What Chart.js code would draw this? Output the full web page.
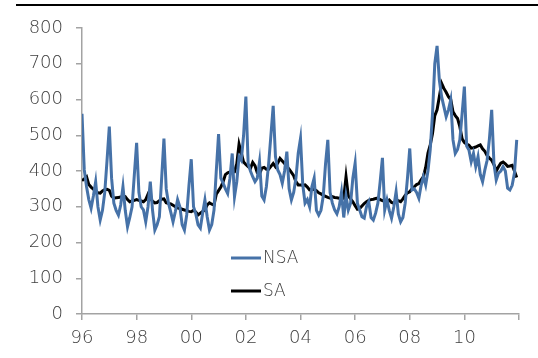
<!DOCTYPE html>
<html>
<head>
<meta charset="utf-8">
<script src="https://cdn.jsdelivr.net/npm/chart.js@4"></script>
<style>
  html, body { margin: 0; padding: 0; background: #fff; }
  #wrap { position: relative; width: 538px; height: 358px; }
  #rule { position: absolute; left: 16px; top: 4px; width: 522px; height: 2px; background: #000; }
  canvas { position: absolute; left: 0; top: 0; }
</style>
</head>
<body>
<div id="wrap">
  <canvas id="chart" width="538" height="358"></canvas>
  <div id="rule"></div>
</div>
<script>
// monthly, Jan 1996 .. Dec 2011 (thousands)
const nsa = [
  560, 403, 356, 320, 296, 330, 370, 300, 263, 290, 340, 430,
  524, 380, 310, 290, 277, 305, 356, 290, 244, 270, 300, 390,
  479, 340, 300, 291, 258, 300, 370, 290, 235, 250, 272, 380,
  491, 350, 310, 285, 258, 286, 320, 300, 250, 235, 277, 360,
  433, 300, 280, 249, 240, 282, 319, 272, 235, 250, 291, 400,
  503, 380, 366, 350, 337, 380, 449, 328, 370, 440, 430, 500,
  608, 421, 400, 384, 370, 380, 426, 330, 319, 356, 420, 500,
  582, 440, 403, 390, 366, 400, 454, 350, 319, 340, 380, 450,
  491, 361, 310, 320, 300, 356, 380, 290, 277, 290, 330, 420,
  487, 340, 310, 291, 280, 300, 340, 270, 330, 291, 310, 380,
  422, 310, 291, 272, 268, 300, 314, 270, 263, 282, 310, 370,
  437, 291, 319, 290, 268, 300, 342, 280, 258, 270, 310, 380,
  463, 347, 350, 340, 324, 360, 384, 361, 400, 460, 560, 700,
  750, 654, 608, 580, 552, 571, 599, 487, 449, 460, 487, 560,
  636, 470, 459, 426, 449, 412, 440, 390, 370, 403, 430, 490,
  571, 420, 375, 394, 400, 412, 400, 352, 347, 360, 394, 487
];
const sa = [
  373, 378, 384, 362, 355, 349, 343, 339, 338, 344, 348, 349,
  346, 330, 324, 325, 326, 327, 327, 328, 320, 314, 316, 318,
  320, 318, 316, 314, 320, 335, 325, 315, 311, 312, 317, 321,
  322, 311, 309, 308, 304, 300, 297, 295, 293, 291, 289, 287,
  286, 290, 285, 277, 282, 287, 291, 305, 311, 307, 305, 335,
  345, 355, 370, 390, 395, 397, 398, 398, 420, 475, 450, 425,
  418, 412, 407, 424, 415, 395, 392, 408, 410, 405, 405, 413,
  421, 412, 422, 435, 428, 421, 413, 405, 396, 387, 370, 361,
  361, 360, 361, 355, 347, 348, 349, 345, 339, 336, 332, 329,
  326, 324, 328, 326, 325, 324, 324, 324, 384, 330, 322, 314,
  303, 293, 295, 302, 309, 314, 318, 320, 321, 323, 324, 320,
  317, 315, 314, 319, 312, 310, 318, 317, 314, 322, 332, 339,
  342, 350, 356, 362, 365, 375, 384, 410, 450, 473, 505, 555,
  571, 608, 645, 631, 620, 608, 600, 566, 555, 547, 524, 490,
  480, 475, 472, 464, 465, 467, 470, 473, 462, 455, 443, 436,
  430, 418, 400, 412, 422, 425, 420, 413, 414, 416, 400, 382
];
const xTickLabels = ["96", "98", "00", "02", "04", "06", "08", "10", ""];
const seriesNames = ["NSA", "SA"];

const blue = "#4672A8";
const axisGrey = "#A3A3A3";
const textCol = "#404040";
const fontFamily = "'DejaVu Sans', sans-serif";
const fontWeight = "200";

// legend drawn inside the plot, like the original
const innerLegend = {
  id: "innerLegend",
  afterDraw(chart) {
    const ctx = chart.ctx;
    const rows = [
      { name: seriesNames[0], color: blue, y: 258 },
      { name: seriesNames[1], color: "#000", y: 291 }
    ];
    ctx.save();
    ctx.font = fontWeight + " 17px " + fontFamily;
    ctx.textBaseline = "middle";
    rows.forEach((r) => {
      ctx.strokeStyle = r.color;
      ctx.lineWidth = 3;
      ctx.beginPath();
      ctx.moveTo(231, r.y);
      ctx.lineTo(261, r.y);
      ctx.stroke();
      ctx.fillStyle = textCol;
      ctx.fillText(r.name, 263, r.y + 1);
    });
    ctx.restore();
  }
};

new Chart(document.getElementById("chart"), {
  type: "line",
  data: {
    datasets: [
      {
        label: seriesNames[0],
        data: nsa.map((v, i) => ({ x: i, y: v })),
        borderColor: blue,
        borderWidth: 3,
        pointRadius: 0,
        tension: 0
      },
      {
        label: seriesNames[1],
        data: sa.map((v, i) => ({ x: i, y: v })),
        borderColor: "#000",
        borderWidth: 3,
        pointRadius: 0,
        tension: 0
      }
    ]
  },
  options: {
    responsive: false,
    animation: false,
    layout: { padding: { left: 0, right: 19, top: 28, bottom: 0 } },
    plugins: { legend: { display: false }, tooltip: { enabled: false } },
    scales: {
      x: {
        type: "linear",
        min: 0,
        max: 192,
        afterFit: (s) => { s.height = 44; },
        afterBuildTicks: (s) => {
          s.ticks = xTickLabels.map((_, i) => ({ value: i * 24 }));
        },
        ticks: {
          autoSkip: false,
          maxRotation: 0,
          padding: 8,
          color: textCol,
          font: { family: fontFamily, size: 18, weight: fontWeight },
          callback: (v) => xTickLabels[v / 24]
        },
        grid: {
          drawOnChartArea: false,
          drawTicks: true,
          tickLength: 6,
          color: axisGrey,
          lineWidth: 1.5
        },
        border: { color: axisGrey, width: 1.5 }
      },
      y: {
        min: 0,
        max: 800,
        afterFit: (s) => { s.width = 82; },
        ticks: {
          stepSize: 100,
          padding: 13,
          color: textCol,
          font: { family: fontFamily, size: 18, weight: fontWeight }
        },
        grid: {
          drawOnChartArea: false,
          drawTicks: true,
          tickLength: 6,
          color: axisGrey,
          lineWidth: 1.5
        },
        border: { color: axisGrey, width: 1.5 }
      }
    }
  },
  plugins: [innerLegend]
});
</script>
</body>
</html>
